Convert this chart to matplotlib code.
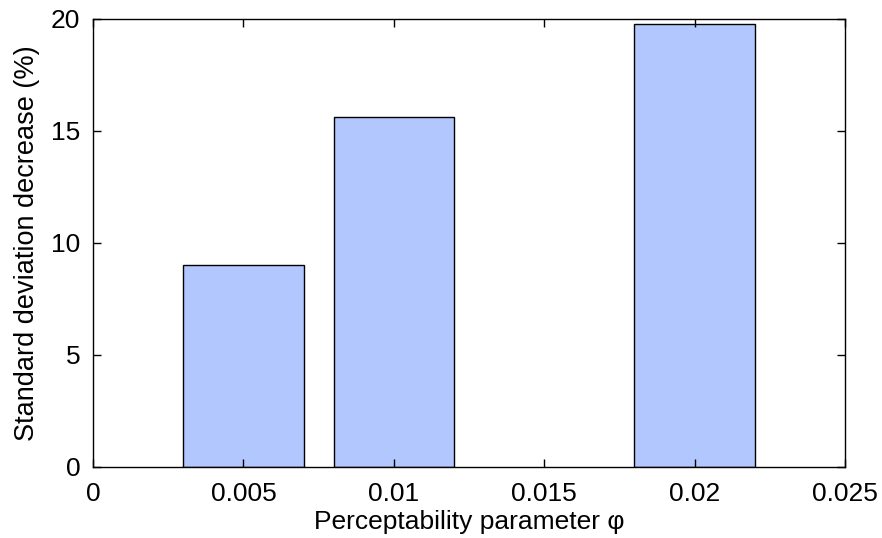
import matplotlib.pyplot as plt

# bar chart: std-dev decrease vs perceptability parameter
phi = [0.005, 0.01, 0.02]
decrease = [9.0, 15.62, 19.78]
xticks = [0, 0.005, 0.01, 0.015, 0.02, 0.025]
xticklabels = ["0", "0.005", "0.01", "0.015", "0.02", "0.025"]
yticks = [0, 5, 10, 15, 20]

plt.rcParams["font.family"] = ["Liberation Sans", "DejaVu Sans"]

fig = plt.figure(figsize=(8.82, 5.38), dpi=100)
ax = fig.add_axes([93 / 882, 1 - 467 / 538, 752 / 882, 448 / 538])

ax.bar(phi, decrease, width=0.004, color="#b3c7ff", edgecolor="black", linewidth=1.0)

ax.set_xlim(0, 0.025)
ax.set_ylim(0, 20)
ax.set_xticks(xticks)
ax.set_xticklabels(xticklabels)
ax.set_yticks(yticks)
ax.tick_params(direction="in", top=True, right=True, labelsize=19, length=6, width=1)
ax.tick_params(axis="x", pad=11)
ax.tick_params(axis="y", pad=9)
for s in ax.spines.values():
    s.set_linewidth(1.0)

ax.set_xlabel("Perceptability parameter φ", fontsize=19, labelpad=3)
ax.set_ylabel("Standard deviation decrease (%)", fontsize=19.5, labelpad=8)

fig.savefig("out.png", dpi=100)
